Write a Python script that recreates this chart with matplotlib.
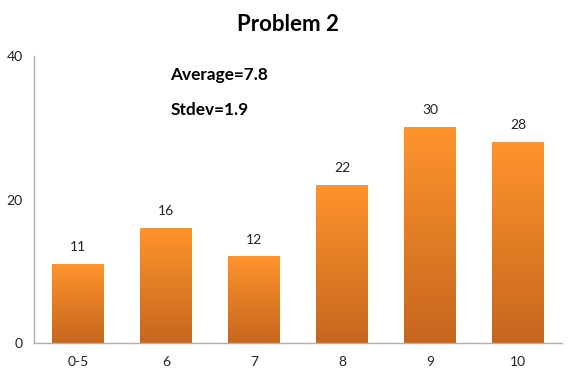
import matplotlib
matplotlib.use("Agg")
import matplotlib.pyplot as plt
import numpy as np
from matplotlib.colors import LinearSegmentedColormap

categories = ["0-5", "6", "7", "8", "9", "10"]
values = [11, 16, 12, 22, 30, 28]
title = "Problem 2"
notes = ["Average=7.8", "Stdev=1.9"]

plt.rcParams['font.family'] = ['Lato', 'DejaVu Sans']

fig = plt.figure(figsize=(5.76, 3.77), dpi=100)
ax = fig.add_axes([0.059, 0.090, 0.917, 0.761])

x = np.arange(len(categories))
width = 0.59
bars = ax.bar(x, values, width=width, color="#E8842A", zorder=1)

cmap = LinearSegmentedColormap.from_list("og", ["#C6661F", "#FF942C"])
grad = np.linspace(0, 1, 256).reshape(-1, 1)
for b in bars:
    x0 = b.get_x(); w = b.get_width(); h = b.get_height()
    ax.imshow(grad, cmap=cmap, extent=(x0, x0 + w, 0, h), origin="lower",
              aspect="auto", zorder=2)
    ax.text(x0 + w / 2, h + 1.6, f"{h:g}", ha="center", va="bottom",
            fontsize=10, color="#222222")

ax.set_xlim(-0.5, len(categories) - 0.5)
ax.set_ylim(0, 40)
ax.set_yticks([0, 20, 40])
ax.set_xticks(x)
ax.set_xticklabels(categories)
ax.tick_params(length=0, labelsize=10, colors="#222222")
ax.tick_params(axis="y", pad=8)
ax.tick_params(axis="x", pad=9)
for s in ["top", "right"]:
    ax.spines[s].set_visible(False)
for s in ["left", "bottom"]:
    ax.spines[s].set_color("#B0B0B0")
    ax.spines[s].set_linewidth(1.0)

fig.text(0.5, 0.935, title, ha="center", va="center", fontsize=16,
         fontweight="bold", color="black")
ax.text(0.258, 0.934, notes[0], transform=ax.transAxes, ha="left",
        va="center", fontsize=12.4, fontweight="bold")
ax.text(0.258, 0.812, notes[1], transform=ax.transAxes, ha="left",
        va="center", fontsize=12.4, fontweight="bold")

fig.savefig("out.png", dpi=100)
